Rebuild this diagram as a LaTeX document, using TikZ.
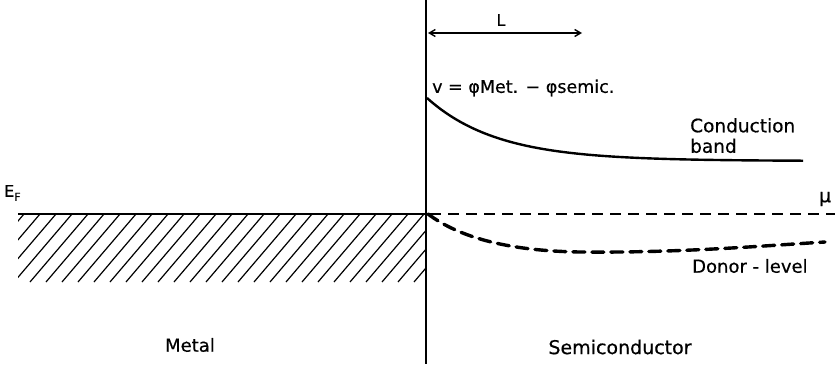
\documentclass[tikz,border=0pt]{standalone}
\usepackage{fontspec}
\setmainfont[FakeBold=0.5]{DejaVu Sans}
\usetikzlibrary{arrows.meta}
\begin{document}
\begin{tikzpicture}[x=1pt,y=-1pt,
  lbl/.style={inner sep=0pt, font=\fontsize{18.5}{20.5}\selectfont},
  small/.style={inner sep=0pt, font=\fontsize{16}{18}\selectfont},
  band/.style={line width=2.4pt},
  hatchline/.style={line width=1.2pt},
  mudash/.style={line width=1.8pt, dash pattern=on 11pt off 7pt},
  donordash/.style={line width=3.4pt, dash pattern=on 12pt off 7pt, line cap=round}]
\useasboundingbox (0,0) rectangle (835,364);

% interface
\coordinate (itop) at (426,0);
\coordinate (ibot) at (426,364);
\draw[line width=1.6pt] (itop) -- (ibot);

% L arrow
\coordinate (La) at (428,33);
\coordinate (Lb) at (582,33);
\draw[line width=1.4pt, {Straight Barb[length=6pt,width=7pt]}-{Straight Barb[length=6pt,width=7pt]}] (La) -- (Lb);
\node[small] (L) at (501,20) {L};

% metal Fermi level and hatching
\coordinate (efl) at (18,214);
\coordinate (efr) at (426,214);
\begin{scope}
  \clip (18,214) rectangle (426,282);
  \foreach \i in {0,...,30} {
    \draw[hatchline] ({-50+16*\i},282) -- ++(58,-68);
  }
\end{scope}
\draw[line width=1.6pt] (efl) -- (efr);
\node[small, anchor=south west] (EF) at (4,201) {E\raisebox{-4pt}{\fontsize{11}{12}\selectfont F}};

% mu line
\coordinate (mul) at (430,214);
\coordinate (mur) at (835,214);
\draw[mudash] (mul) -- (mur);
\node[inner sep=0pt, font=\fontsize{19}{20}\selectfont] (mu) at (825,199) {μ};

% conduction band
\draw[band] plot[domain=427:803, samples=80] (\x, {161-63*exp(-(\x-427)/70)});
\node[inner sep=0pt, font=\fontsize{17.5}{19}\selectfont, anchor=west] (vlab) at (432,88) {v = φMet. − φsemic.};
\node[lbl, anchor=north west, align=left] (cb) at (690,118) {Conduction\\band};

% donor level
\coordinate (d0) at (428,214);
\coordinate (d1) at (580,252);
\coordinate (d2) at (825,242);
\draw[donordash] (d0) .. controls (460,238) and (510,251) .. (d1)
                      .. controls (680,253) and (760,246) .. (d2);
\node[inner sep=0pt, font=\fontsize{18}{20}\selectfont, anchor=west] (donor) at (692,266) {Donor - level};

% region labels
\node[inner sep=0pt, font=\fontsize{18}{20}\selectfont] (metal) at (190,345) {Metal};
\node[inner sep=0pt, font=\fontsize{19}{21}\selectfont] (semi) at (620,347) {Semiconductor};
\end{tikzpicture}
\end{document}
